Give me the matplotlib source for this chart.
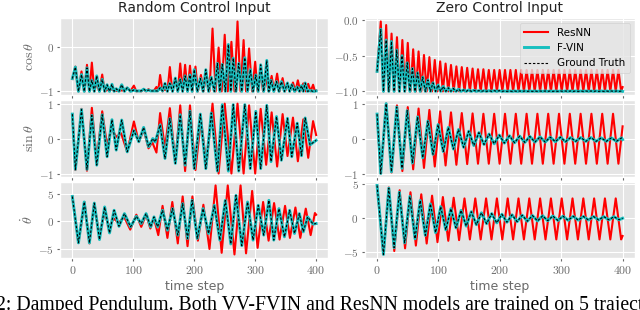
import matplotlib
matplotlib.use("Agg")
import matplotlib.pyplot as plt
import numpy as np

# ---- data: turning points of each trajectory ----
# Random control input, ground truth (F-VIN sits on top of it)
rand_gt_t_ext = [0, 5, 15, 24, 32, 40, 49, 57, 65, 72, 81, 90, 101, 109, 117, 125, 132, 136, 144, 152,
                 160, 169, 177, 185, 193, 200, 210, 219, 228, 238, 246, 256, 264, 273, 283, 292, 301, 309, 319, 326,
                 335, 343, 353, 360, 369, 376, 382, 390, 400]
rand_gt_sin = [0.7, -0.88, 0.83, -0.88, 0.66, -0.76, 0.68, -0.52, 0.54, -0.33, 0.53, -0.38, 0.23, -0.09, 0.32, -0.23,
               0.0, -0.1, 0.39, -0.57, 0.57, -0.71, 0.68, -0.76, 0.78, -0.86, 0.7, -0.86, 0.73, -0.93, 0.97, -0.93,
               0.97, -0.93, 0.97, -0.86, 0.78, -0.86, 0.95, -0.66, 0.63, -0.62, 0.58, -0.52, 0.44, -0.49, 0.59, -0.18,
               -0.05]
rand_gt_cos_top = [-0.71, -0.45, -0.62, -0.47, -0.75, -0.65, -0.73, -0.85, -0.84, -0.94, -0.85, -0.92, -0.97, -0.99,
                   -0.95, -0.97, -0.99, -0.99, -0.92, -0.82, -0.82, -0.7, -0.73, -0.65, -0.63, -0.51, -0.71, -0.51,
                   -0.68, -0.37, -0.39, 0.06, -0.25, -0.37, -0.24, -0.51, -0.63, -0.4, -0.3, -0.75, -0.78, -0.78,
                   -0.81, -0.85, -0.9, -0.87, -0.81, -0.98, -0.99]
rand_gt_t_mid = [0, 10, 19.5, 28, 36, 44.5, 53, 61, 68.5, 76.5, 85.5, 95.5, 105, 113, 121, 128.5, 134, 140, 148, 156,
                 164.5, 173, 181, 189, 196.5, 205, 214.5, 223.5, 233, 242, 251, 260, 268.5, 278, 287.5, 296.5, 305,
                 314, 322.5, 330.5, 339, 348, 356.5, 364.5, 372.5, 379, 386, 395, 400]
rand_gt_dtheta = [4.5, -3.9, 3.5, -3.9, 3.3, -3.3, 2.6, -2.1, 2.0, -0.9, 1.4, -1.0, 0.9, -0.4, 1.4, -1.0, 0.8, -1.0,
                  2.0, -1.6, 2.3, -2.5, 3.2, -3.1, 3.8, -3.1, 2.3, -2.2, 2.9, -3.4, 3.8, -4.1, 4.7, -4.4, 3.5, -3.4,
                  2.9, -2.5, 3.8, -3.4, 2.3, -2.8, 2.0, -2.2, 1.4, -1.9, 0.8, -0.5, -0.4]
rand_gt_cos_low = [-1.0, -1.0, -1.0, -1.0, -1.0, -1.0, -1.0, -1.0, -1.0, -1.0, -1.0, -0.99, -0.99, -0.99, -0.99,
                   -0.99, -0.99, -0.99, -1.0, -1.0, -1.0, -1.0, -1.0, -1.0, -1.0, -1.0, -1.0, -1.0, -1.0, -1.0, -1.0,
                   -1.0, -1.0, -1.0, -1.0, -1.0, -1.0, -1.0, -1.0, -1.0, -1.0, -1.0, -1.0, -1.0, -1.0, -1.0, -1.0]

# Random control input, ResNN
rand_res_t_ext = [0, 5, 15, 24, 32, 40, 49, 57, 64, 72, 80, 90, 101, 109, 117, 125, 131, 138, 144, 152,
                  160, 169, 177, 185, 193, 202, 211, 220, 230, 240, 250, 261, 271, 281, 290, 300, 309, 318, 327, 336,
                  345, 353, 362, 370, 379, 387, 395, 400]
rand_res_sin = [0.7, -0.9, 0.85, -0.92, 0.88, -0.6, 0.78, -0.2, 0.3, 0.05, 0.15, -0.38, 0.49, -0.1, 0.25, -0.28,
                -0.1, -0.4, 0.73, -0.28, 0.87, -0.66, 0.95, -0.93, 0.95, -0.9, 0.55, -0.75, 1.0, -1.0, 1.0, -1.0,
                1.0, -1.0, 0.95, -1.0, 0.85, -0.75, 0.75, -0.8, 0.7, -0.5, 0.6, -0.65, 0.55, -0.55, 0.5, 0.1]
rand_res_cos_top = [-0.72, -0.44, -0.55, -0.4, -0.35, -0.8, -0.62, -0.97, -0.95, -0.99, -0.98, -0.92, -0.87, -0.99,
                    -0.96, -0.95, -0.99, -0.9, -0.63, -0.95, -0.45, -0.72, -0.37, -0.4, -0.42, -0.44, -0.63, -0.6,
                    0.42, -0.01, 0.28, 0.12, 0.58, 0.16, -0.03, -0.33, -0.6, -0.7, -0.65, -0.6, -0.7, -0.85, -0.8,
                    -0.75, -0.82, -0.83, -0.85, -0.98]
rand_res_t_mid = [0, 10, 20, 28, 36, 44, 53, 60, 68, 76, 85, 95, 105, 113, 121, 128, 134, 141, 148, 156,
                  164, 173, 181, 189, 197, 206, 215, 225, 235, 245, 255, 266, 276, 285, 295, 304, 313, 322, 331, 340,
                  349, 357, 366, 374, 383, 391, 398, 400]
rand_res_dtheta = [4.5, -3.9, 3.5, -4.0, 3.3, -2.5, 1.5, -1.0, 0.5, -0.3, 0.8, -1.5, 1.2, -1.0, 1.2, -1.3, 0.5,
                   -2.5, 2.8, -3.0, 3.5, -4.0, 4.5, -4.5, 4.5, -3.5, 3.0, -5.0, 6.5, -5.7, 6.5, -6.0, 6.5, -5.8,
                   5.5, -4.8, 3.5, -3.5, 3.3, -3.3, 2.8, -3.0, 2.5, -3.0, 2.3, -2.5, 1.5, 1.2]
rand_res_cos_low = [-1.0, -1.0, -1.0, -1.0, -1.0, -1.0, -0.98, -0.98, -0.98, -0.98, -1.0, -1.0, -1.0, -1.0, -0.99,
                    -0.98, -0.98, -1.0, -1.0, -1.0, -1.0, -1.0, -1.0, -1.0, -1.0, -1.0, -1.0, -1.0, -1.0, -1.0,
                    -1.0, -1.0, -1.0, -1.0, -1.0, -1.0, -1.0, -1.0, -1.0, -1.0, -1.0, -1.0, -1.0, -1.0, -1.0, -1.0]

# Zero control input, ground truth
zero_gt_t_ext = [0, 6, 14.8, 23.4, 32, 40.6, 49.1, 57.6, 66, 74.4, 82.8, 91.1, 99.4, 107.8, 116.1, 124.4, 132.7,
                 141, 149.3, 157.6, 165.9, 174.2, 182.5, 190.8, 199.1, 207.4, 215.7, 224, 232.3, 240.6, 248.9, 257.2,
                 265.5, 273.8, 282.1, 290.4, 298.7, 307, 315.3, 323.6, 331.9, 340.2, 348.5, 356.8, 365.1, 373.4,
                 381.7, 390, 398.3, 400]
zero_gt_sin = [0.7, -1.0, 1.0, -0.95, 0.9, -0.85, 0.8, -0.7, 0.62, -0.55, 0.5, -0.45, 0.4, -0.37, 0.32, -0.3, 0.26,
               -0.25, 0.21, -0.2, 0.17, -0.17, 0.13, -0.15, 0.1, -0.13, 0.08, -0.12, 0.07, -0.11, 0.06, -0.1, 0.05,
               -0.1, 0.04, -0.09, 0.04, -0.09, 0.03, -0.08, 0.03, -0.08, 0.03, -0.08, 0.02, -0.08, 0.02, -0.08, 0.02,
               -0.03]
zero_gt_cos_top = [-0.72, -0.13, -0.28, -0.3, -0.42, -0.5, -0.6, -0.68, -0.74, -0.8, -0.84, -0.88, -0.91, -0.93,
                   -0.95, -0.96, -0.97, -0.98, -0.98, -0.985, -0.99, -0.99, -0.99, -0.99, -0.99, -0.995, -0.995,
                   -0.995, -0.995, -0.995, -0.995, -0.995, -0.995, -0.995, -0.995, -0.995, -0.995, -0.995, -0.995,
                   -0.995, -0.995, -0.995, -0.995, -0.995, -0.995, -0.995, -0.995, -0.995, -0.995, -1.0]
zero_gt_t_mid = [0, 10.4, 19.1, 27.7, 36.3, 44.9, 53.4, 61.8, 70.2, 78.6, 86.9, 95.3, 103.6, 112, 120.3, 128.6,
                 136.9, 145.2, 153.5, 161.8, 170.1, 178.4, 186.7, 195, 203.3, 211.6, 219.9, 228.2, 236.5, 244.8,
                 253.1, 261.4, 269.7, 278, 286.3, 294.6, 302.9, 311.2, 319.5, 327.8, 336.1, 344.4, 352.7, 361, 369.3,
                 377.6, 385.9, 394.2, 400]
zero_gt_dtheta = [4.8, -5.3, 4.4, -4.3, 3.8, -3.6, 3.2, -3.0, 2.6, -2.5, 2.1, -2.1, 1.7, -1.7, 1.4, -1.4, 1.15,
                  -1.15, 0.95, -0.95, 0.8, -0.8, 0.68, -0.68, 0.58, -0.58, 0.5, -0.5, 0.44, -0.44, 0.4, -0.4, 0.36,
                  -0.36, 0.33, -0.33, 0.3, -0.3, 0.28, -0.28, 0.26, -0.26, 0.25, -0.25, 0.24, -0.24, 0.23, -0.23, 0.0]
zero_gt_cos_low = [-1.0, -1.0, -1.0, -1.0, -1.0, -1.0, -1.0, -1.0, -1.0, -1.0, -1.0, -1.0, -1.0, -1.0, -1.0, -1.0,
                   -1.0, -1.0, -1.0, -1.0, -1.0, -1.0, -1.0, -1.0, -1.0, -1.0, -1.0, -1.0, -1.0, -1.0, -1.0, -1.0,
                   -1.0, -1.0, -1.0, -1.0, -1.0, -1.0, -1.0, -1.0, -1.0, -1.0, -1.0, -1.0, -1.0, -1.0, -1.0]

# Zero control input, ResNN
zero_res_t_ext = [0, 6, 14.8, 23.6, 32.4, 41.2, 50, 58.8, 67.6, 76.4, 85.2, 94, 102.8, 111.6, 120.4, 129.2, 138,
                  146.8, 155.6, 164.4, 173.2, 182, 190.8, 199.6, 208.4, 217.2, 226, 234.8, 243.6, 252.4, 261.2, 270,
                  278.8, 287.6, 296.4, 305.2, 314, 322.8, 331.6, 340.4, 349.2, 358, 366.8, 375.6, 384.4, 393.2, 400]
zero_res_sin = [0.7, -1.0, 1.0, -0.97, 0.95, -0.93, 0.9, -0.88, 0.86, -0.84, 0.82, -0.8, 0.78, -0.77, 0.75, -0.75,
                0.73, -0.73, 0.72, -0.72, 0.71, -0.72, 0.71, -0.72, 0.71, -0.72, 0.71, -0.72, 0.71, -0.72, 0.71,
                -0.72, 0.71, -0.72, 0.71, -0.72, 0.71, -0.72, 0.71, -0.72, 0.71, -0.72, 0.71, -0.72, 0.71, -0.72,
                0.35]
zero_res_cos_top = [-0.72, -0.02, -0.07, -0.19, -0.24, -0.28, -0.32, -0.41, -0.44, -0.49, -0.52, -0.56, -0.58,
                    -0.61, -0.63, -0.65, -0.66, -0.67, -0.68, -0.69, -0.69, -0.7, -0.7, -0.7, -0.7, -0.7, -0.7, -0.7,
                    -0.7, -0.7, -0.7, -0.7, -0.7, -0.7, -0.7, -0.7, -0.7, -0.7, -0.7, -0.7, -0.7, -0.7, -0.7, -0.7,
                    -0.7, -0.7, -0.94]
zero_res_t_mid = [0, 10.4, 19.2, 28, 36.8, 45.6, 54.4, 63.2, 72, 80.8, 89.6, 98.4, 107.2, 116, 124.8, 133.6, 142.4,
                  151.2, 160, 168.8, 177.6, 186.4, 195.2, 204, 212.8, 221.6, 230.4, 239.2, 248, 256.8, 265.6, 274.4,
                  283.2, 292, 300.8, 309.6, 318.4, 327.2, 336, 344.8, 353.6, 362.4, 371.2, 380, 388.8, 397.6, 400]
zero_res_dtheta = [4.8, -5.3, 4.5, -4.8, 4.1, -4.4, 3.8, -4.0, 3.5, -3.7, 3.3, -3.5, 3.1, -3.3, 3.0, -3.2, 2.9,
                   -3.1, 2.9, -3.1, 2.9, -3.1, 2.9, -3.1, 2.9, -3.1, 2.9, -3.1, 2.9, -3.1, 2.9, -3.1, 2.9, -3.1, 2.9,
                   -3.1, 2.9, -3.1, 2.9, -3.1, 2.9, -3.1, 2.9, -3.1, 2.9, -3.1, -2.6]
zero_res_cos_low = [-1.0, -1.0, -1.0, -1.0, -1.0, -1.0, -1.0, -1.0, -1.0, -1.0, -1.0, -1.0, -1.0, -1.0, -1.0,
                    -1.0, -1.0, -1.0, -1.0, -1.0, -1.0, -1.0, -1.0, -1.0, -1.0, -1.0, -1.0, -1.0, -1.0, -1.0, -1.0,
                    -1.0, -1.0, -1.0, -1.0, -1.0, -1.0, -1.0, -1.0, -1.0, -1.0, -1.0, -1.0, -1.0, -1.0]

titles = ["Random Control Input", "Zero Control Input"]
row_labels = [r"$\cos\theta$", r"$\sin\theta$", r"$\dot{\theta}$"]
yticks = {
    (0, 0): [-1, 0], (0, 1): [-1.0, -0.5, 0.0],
    (1, 0): [-1, 0, 1], (1, 1): [-1, 0, 1],
    (2, 0): [-5, 0, 5], (2, 1): [-5, 0, 5],
}
xticks = [0, 100, 200, 300, 400]
caption = "2: Damped Pendulum. Both VV-FVIN and ResNN models are trained on 5 trajectories"

TICK_GRAY = "#6a6a6a"


def cos_curve(t_ext, top, t_mid, low):
    # cos humps at the sin turning points, floor in between
    t = np.concatenate([t_ext, t_mid[1:-1]])
    v = np.concatenate([top, low])
    order = np.argsort(t, kind="stable")
    return t[order], v[order]


def series(prefix):
    d = globals()
    t_ext = np.array(d[prefix + "_t_ext"], float)
    t_mid = np.array(d[prefix + "_t_mid"], float)
    tc, vc = cos_curve(t_ext, np.array(d[prefix + "_cos_top"], float),
                       t_mid, np.array(d[prefix + "_cos_low"], float))
    return [(tc, vc), (t_ext, np.array(d[prefix + "_sin"], float)),
            (t_mid, np.array(d[prefix + "_dtheta"], float))]


def tex_num(v, fmt):
    s = fmt % abs(v)
    return r"$-%s$" % s if v < 0 else r"$%s$" % s


plt.style.use("ggplot")
plt.rcParams["mathtext.fontset"] = "cm"
plt.rcParams["font.family"] = ["DejaVu Sans"]

fig = plt.figure(figsize=(6.4, 3.1), dpi=100)
lefts = [0.094, 0.570]
widths = [0.419, 0.422]
bottoms = [0.694, 0.429, 0.168]
heights = [0.248, 0.248, 0.245]

for col, (res_key, gt_key) in enumerate([("rand_res", "rand_gt"), ("zero_res", "zero_gt")]):
    res = series(res_key)
    gt = series(gt_key)
    for row in range(3):
        ax = fig.add_axes([lefts[col], bottoms[row], widths[col], heights[row]])
        l1, = ax.plot(*res[row], color="red", lw=1.5, label="ResNN")
        l2, = ax.plot(*gt[row], color="#17bfbf", lw=2.1, label="F-VIN")
        l3, = ax.plot(*gt[row], color="black", lw=0.8, ls=(0, (2.2, 1.6)), label="Ground Truth")
        ax.set_xticks(xticks)
        yt = yticks[(row, col)]
        ax.set_yticks(yt)
        fmt = "%.1f" if (col == 1 and row == 0) else "%d"
        ax.set_yticklabels([tex_num(v, fmt) for v in yt], fontsize=8)
        if row == 2:
            ax.set_xticklabels([tex_num(v, "%d") for v in xticks], fontsize=8.5)
            ax.set_xlabel("time step", fontsize=9, color=TICK_GRAY, labelpad=2)
        else:
            ax.set_xticklabels([])
        ax.tick_params(length=2.5, pad=2, colors=TICK_GRAY)
        if col == 0:
            ax.set_ylabel(row_labels[row], fontsize=10, color=TICK_GRAY, labelpad=2)
        if row == 0:
            ax.set_title(titles[col], fontsize=10, color="#222222", pad=4)
        if row == 0 and col == 1:
            ax.legend(handles=[l1, l2, l3], loc="upper right", fontsize=7.5,
                      framealpha=0.8, borderpad=0.45, handlelength=2.3, labelspacing=0.5)

# caption of the paper figure, cut by the lower edge of the crop
fig.text(-0.006, 1 - 296 / 310, caption, fontsize=14.2, family="Liberation Serif", ha="left", va="top")

fig.savefig("out.png", dpi=100)
